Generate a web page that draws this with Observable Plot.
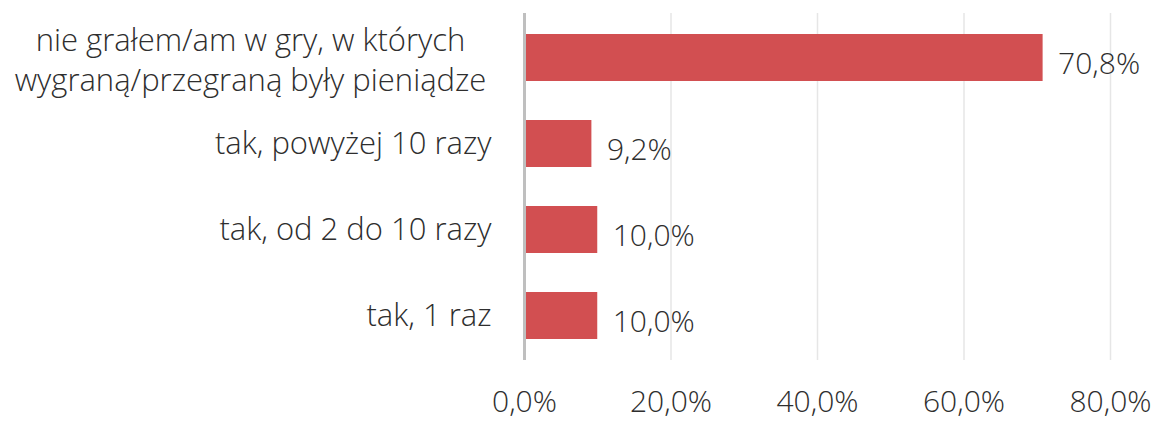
<!DOCTYPE html>
<html>
<head>
<meta charset="utf-8">
<script src="https://cdn.jsdelivr.net/npm/d3@7"></script>
<script src="https://cdn.jsdelivr.net/npm/@observablehq/plot@0.6"></script>
<style>
  html, body { margin: 0; padding: 0; background: #fff; }
  svg { display: block; }
</style>
</head>
<body>
<div id="chart"></div>
<script>
const categories = [
  "nie grałem/am w gry, w których\nwygraną/przegraną były pieniądze",
  "tak, powyżej 10 razy",
  "tak, od 2 do 10 razy",
  "tak, 1 raz"
];
const values = [70.8, 9.2, 10.0, 10.0];
const xTicks = [0, 20, 40, 60, 80];

const data = categories.map((c, i) => ({category: c, value: values[i]}));
const fmt = d => d.toFixed(1).replace(".", ",") + "%";
const shortCats = categories.filter(c => !c.includes("\n"));
const longCats = categories.filter(c => c.includes("\n"));
const font = "'Open Sans', 'Segoe UI', sans-serif";

const chart = Plot.plot({
  width: 1153,
  height: 421,
  marginLeft: 524,
  marginRight: 43,
  marginTop: 13,
  marginBottom: 61,
  style: {fontFamily: font, fontWeight: 300, color: "#333", background: "#fff"},
  x: {domain: [0, 80], ticks: xTicks, tickFormat: fmt, label: null},
  y: {domain: categories, paddingInner: 0.45, paddingOuter: 0.225, label: null},
  marks: [
    Plot.gridX(xTicks, {stroke: "#e6e6e6", strokeOpacity: 1, strokeWidth: 1.5}),
    Plot.barX(data, {x: "value", y: "category", fill: "#d24f51"}),
    Plot.ruleX([0], {stroke: "#bfbfbf", strokeWidth: 3}),
    Plot.text(data, {x: "value", y: "category", text: d => fmt(d.value), textAnchor: "start", dx: 15, dy: 6, fontSize: 30, fill: "#2e2e2e", fontWeight: 300}),
    Plot.axisX(xTicks, {label: null, tickSize: 0, tickPadding: 30, fontSize: 30, tickFormat: fmt, fill: "#2e2e2e", fontWeight: 300}),
    Plot.axisY(shortCats, {label: null, tickSize: 0, tickPadding: 33, fontSize: 31, fill: "#2e2e2e", fontWeight: 300}),
    Plot.axisY(longCats, {label: null, tickSize: 0, tickPadding: 0, dx: -274, textAnchor: "middle", fontSize: 31, lineHeight: 1.3, fill: "#2e2e2e", fontWeight: 300})
  ]
});
document.getElementById("chart").appendChild(chart);
</script>
</body>
</html>
